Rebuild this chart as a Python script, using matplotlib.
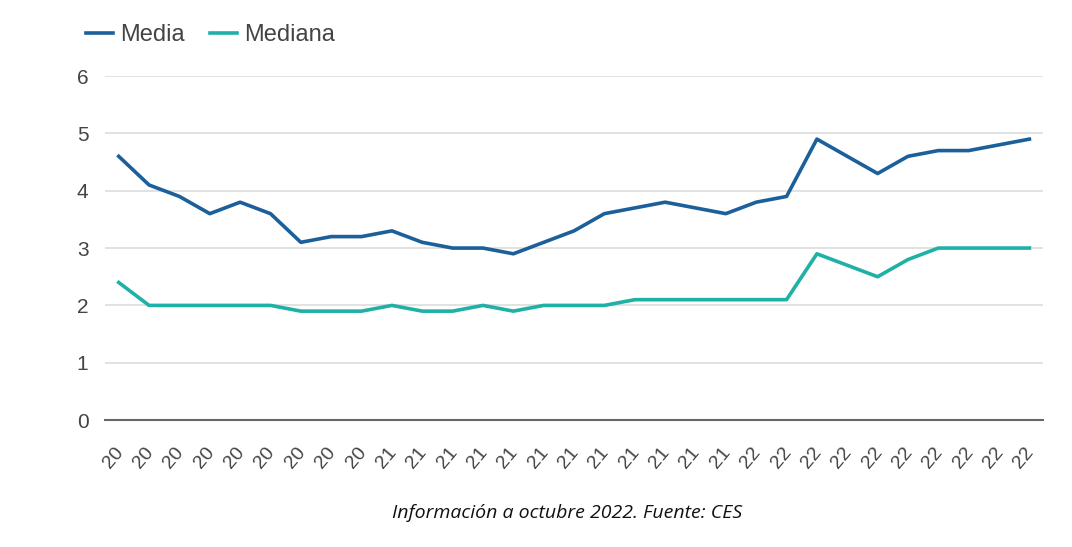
import matplotlib
matplotlib.use("Agg")
import matplotlib.pyplot as plt
from matplotlib.lines import Line2D
from matplotlib.transforms import ScaledTranslation

# Data (Apr 2020 - Oct 2022, monthly)
tick_labels = ["20"] * 9 + ["21"] * 12 + ["22"] * 10
media = [4.6, 4.1, 3.9, 3.6, 3.8, 3.6, 3.1, 3.2, 3.2, 3.3, 3.1, 3.0, 3.0, 2.9,
         3.1, 3.3, 3.6, 3.7, 3.8, 3.7, 3.6, 3.8, 3.9, 4.9, 4.6, 4.3, 4.6, 4.7,
         4.7, 4.8, 4.9]
mediana = [2.4, 2.0, 2.0, 2.0, 2.0, 2.0, 1.9, 1.9, 1.9, 2.0, 1.9, 1.9, 2.0, 1.9,
           2.0, 2.0, 2.0, 2.1, 2.1, 2.1, 2.1, 2.1, 2.1, 2.9, 2.7, 2.5, 2.8, 3.0,
           3.0, 3.0, 3.0]
series_names = ["Media", "Mediana"]
y_ticks = [0, 1, 2, 3, 4, 5, 6]
caption = "Información a octubre 2022. Fuente: CES"

c_media = "#1b5f9b"
c_mediana = "#1fb0a6"
text_c = "#444444"

plt.rcParams['font.family'] = ['Liberation Sans', 'DejaVu Sans']

fig = plt.figure(figsize=(10.72, 5.47), dpi=100)
ax = fig.add_axes([0.098, 0.232, 0.875, 0.629])

x = list(range(len(media)))
ax.plot(x, media, color=c_media, lw=2.6, solid_joinstyle='round')
ax.plot(x, mediana, color=c_mediana, lw=2.6, solid_joinstyle='round')

ax.set_xlim(-0.45, len(media) - 0.55)
ax.set_ylim(0, 6)
ax.set_yticks(y_ticks)
ax.set_yticklabels([str(v) for v in y_ticks], fontsize=15, color=text_c)
ax.grid(axis='y', color='#dddddd', lw=1.2)
ax.set_axisbelow(True)
for s in ['top', 'right', 'left']:
    ax.spines[s].set_visible(False)
ax.spines['bottom'].set_color('#666666')
ax.spines['bottom'].set_linewidth(1.5)
ax.tick_params(axis='y', length=0, pad=12)
ax.tick_params(axis='x', length=0, pad=17)
ax.set_xticks(x)
ax.set_xticklabels(tick_labels, fontsize=14, color=text_c, rotation=50,
                   ha='right', rotation_mode='anchor')
offset = ScaledTranslation(-5 / 100, 0, fig.dpi_scale_trans)
for lab in ax.get_xticklabels():
    lab.set_transform(lab.get_transform() + offset)

# legend
handles = [Line2D([], [], color=c_media, lw=2.6),
           Line2D([], [], color=c_mediana, lw=2.6)]
fig.legend(handles, series_names, loc='center left',
           bbox_to_anchor=(86 / 1072, 1 - 35 / 547),
           ncol=2, frameon=False, fontsize=17, handlelength=1.15,
           handletextpad=0.3, columnspacing=1.05, labelcolor=text_c,
           borderpad=0, borderaxespad=0)

fig.text(0.529, 1 - 513 / 547, caption, ha='center', va='center', fontsize=14,
         style='italic', family=['Open Sans', 'DejaVu Sans'], color='#111111')

fig.savefig("out.png", dpi=100, facecolor='white')
